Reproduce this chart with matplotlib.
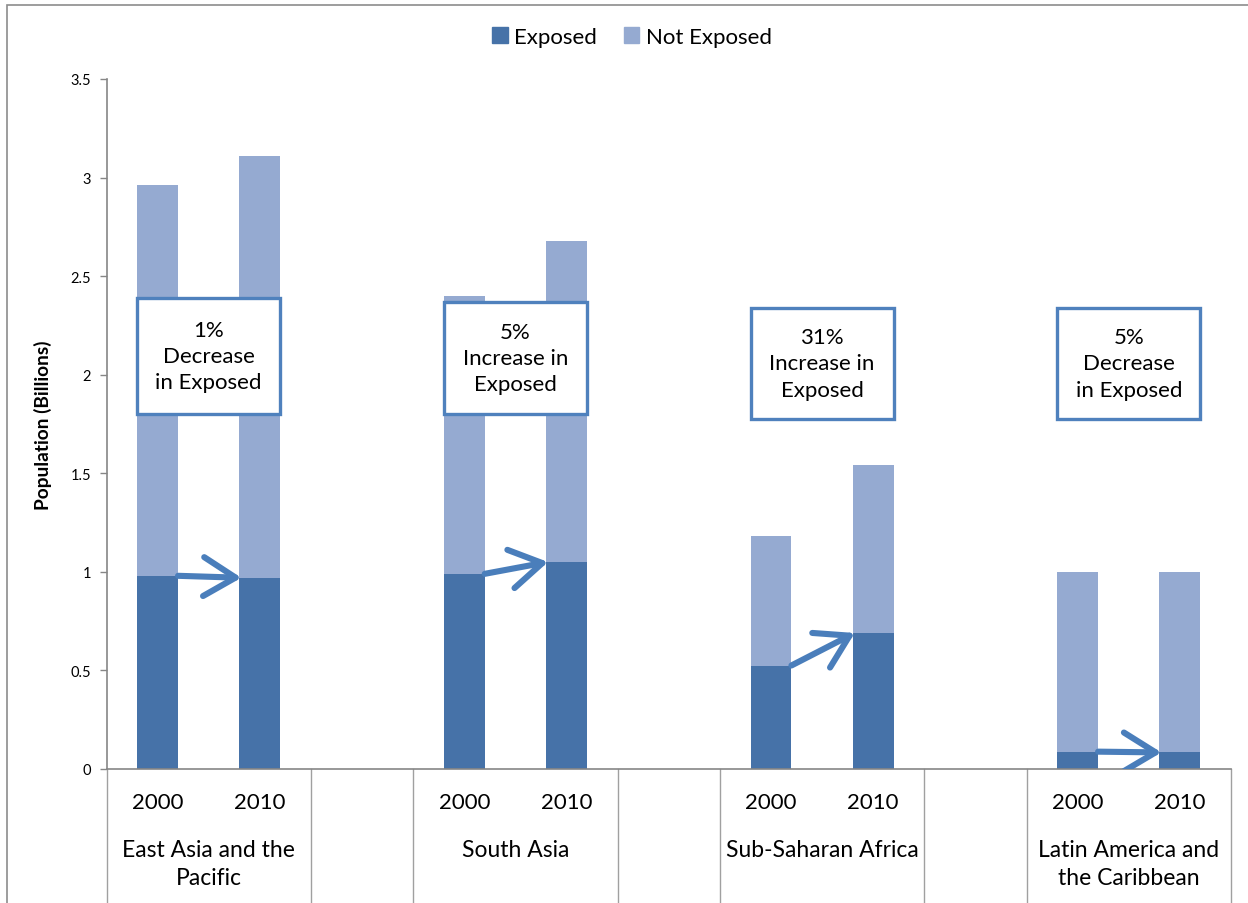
"""Stacked bars: population exposed / not exposed by region, 2000 vs 2010."""

import matplotlib

matplotlib.use("Agg")
from matplotlib import pyplot as plt
from matplotlib.patches import FancyArrowPatch, Patch, Rectangle

import numpy as np

plt.rcParams["font.family"] = ["Lato", "DejaVu Sans"]

regions = [
    "East Asia and the\nPacific",
    "South Asia",
    "Sub-Saharan Africa",
    "Latin America and\nthe Caribbean",
]
years = ["2000", "2010"]
exposed = [0.98, 0.97, 0.99, 1.05, 0.525, 0.69, 0.088, 0.084]
total = [2.96, 3.11, 2.40, 2.68, 1.18, 1.54, 1.00, 1.00]
box_texts = [
    "1%\nDecrease\nin Exposed",
    "5%\nIncrease in\nExposed",
    "31%\nIncrease in\nExposed",
    "5%\nDecrease\nin Exposed",
]
box_tops = [2.39, 2.37, 2.34, 2.34]
box_bottoms = [1.80, 1.80, 1.775, 1.775]
yticks = [0, 0.5, 1, 1.5, 2, 2.5, 3, 3.5]

DARK = "#4672a8"
LIGHT = "#95aad1"
EDGE = "#4f81bd"
ARROW = "#4a7ebb"
GRID = "#868686"

exposed = np.array(exposed)
not_exposed = np.array(total) - exposed
# slot of each bar: one empty slot between regions
slots = np.array([3 * g + j for g in range(len(regions)) for j in range(len(years))])

fig = plt.figure(figsize=(12.48, 9.04), dpi=100)
ax = fig.add_axes([106.5 / 1248, 134 / 904, 1124.5 / 1248, 690 / 904])

bar_w = 0.4
ax.bar(slots, exposed, width=bar_w, color=DARK, label="Exposed", zorder=2)
ax.bar(
    slots, not_exposed, bottom=exposed, width=bar_w, color=LIGHT,
    label="Not Exposed", zorder=2,
)

ax.set_xlim(-0.5, 10.5)
ax.set_ylim(0, 3.5)
ax.set_yticks(yticks)
ax.set_yticklabels([f"{t:g}" for t in yticks], fontsize=10.5)
ax.tick_params(axis="y", length=5, color=GRID, width=1, pad=6)
ax.set_xticks([])
for side in ("top", "right"):
    ax.spines[side].set_visible(False)
for side in ("left", "bottom"):
    ax.spines[side].set_color(GRID)
    ax.spines[side].set_linewidth(1.2)

ax.set_ylabel("Population (Billions)", fontsize=13.8, fontweight="bold")
ax.yaxis.set_label_coords(-54 / 1124.5, 0.5)

# multi-level category axis
bottom_y = -(904 - 770) / 690
for xb in [-0.5, 1.5, 2.5, 4.5, 5.5, 7.5, 8.5, 10.5]:
    ax.plot(
        [xb, xb], [0, bottom_y], transform=ax.get_xaxis_transform(),
        color="#a0a0a0", lw=1, clip_on=False,
    )
for s, yr in zip(slots, years * len(regions)):
    ax.text(
        s, -33 / 690, yr, transform=ax.get_xaxis_transform(),
        ha="center", va="center", fontsize=16,
    )
for g, name in enumerate(regions):
    ax.text(
        3 * g + 0.5, -70 / 690, name, transform=ax.get_xaxis_transform(),
        ha="center", va="top", fontsize=16.5, linespacing=1.42,
    )

# annotation boxes and arrows
for g, txt in enumerate(box_texts):
    x0 = 3 * g - bar_w / 2
    x1 = 3 * g + 1 + bar_w / 2
    ax.add_patch(
        Rectangle(
            (x0, box_bottoms[g]), x1 - x0, box_tops[g] - box_bottoms[g],
            facecolor="white", edgecolor=EDGE, lw=2.4, zorder=4,
        )
    )
    ax.text(
        (x0 + x1) / 2, (box_tops[g] + box_bottoms[g]) / 2, txt,
        ha="center", va="center", fontsize=16, linespacing=1.4, zorder=5,
    )
    i0, i1 = 2 * g, 2 * g + 1
    ax.add_patch(
        FancyArrowPatch(
            (slots[i0] + bar_w / 2, exposed[i0]),
            (slots[i1] - bar_w / 2 + 0.02, exposed[i1]),
            arrowstyle="->,head_length=1.15,head_width=0.7",
            mutation_scale=20, color=ARROW, lw=4.4, zorder=3,
            shrinkA=0, shrinkB=0, capstyle="round", joinstyle="round",
        )
    )

handles = [Patch(color=DARK, label="Exposed"), Patch(color=LIGHT, label="Not Exposed")]
fig.legend(
    handles=handles, loc="center", bbox_to_anchor=(632 / 1248, 1 - 38 / 904),
    ncol=2, frameon=False, fontsize=16, handlelength=0.7, handleheight=0.7,
    handletextpad=0.3, columnspacing=1.2,
)

# chart area border
fig.add_artist(
    Rectangle(
        (7 / 1248, -0.05), 1.1, 1.05 - 6 / 904, transform=fig.transFigure,
        fill=False, edgecolor="#8c8c8c", lw=1.2,
    )
)

fig.savefig("out.png", dpi=100)
